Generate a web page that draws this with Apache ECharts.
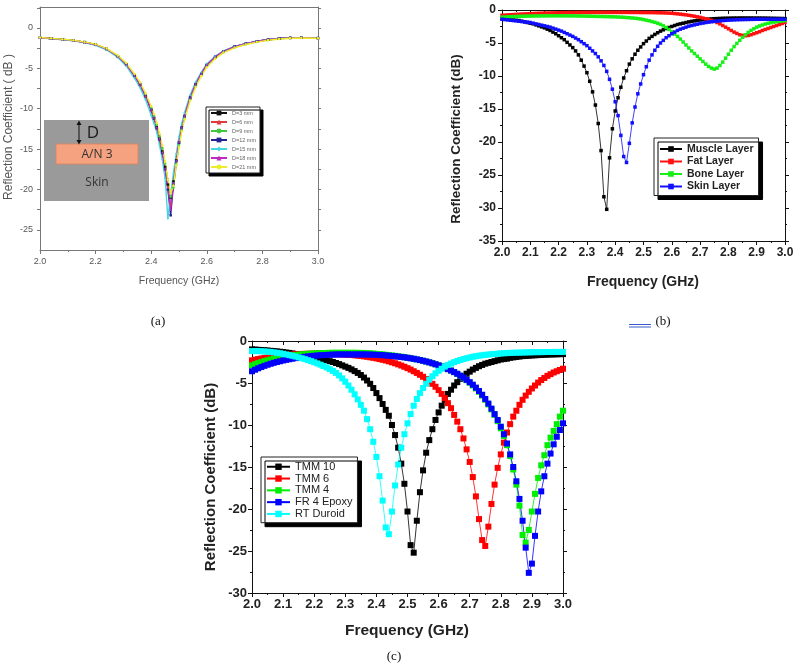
<!DOCTYPE html>
<html>
<head>
<meta charset="utf-8">
<title>Reflection coefficient</title>
<script src="https://cdn.jsdelivr.net/npm/echarts@6.0.0/dist/echarts.min.js"></script>
<style>
  html, body { margin: 0; padding: 0; background: #fff; }
  #chart { width: 800px; height: 669px; }
</style>
</head>
<body>
<div id="chart"></div>
<script>
// ---- (a) antenna depth in skin ----
const freqA = [2.00, 2.04, 2.08, 2.12, 2.16, 2.20, 2.24, 2.28, 2.31, 2.34, 2.36, 2.38, 2.40, 2.41, 2.42, 2.43,
  2.44, 2.45, 2.46, 2.47, 2.48, 2.49, 2.50, 2.51, 2.52, 2.54, 2.56, 2.58, 2.60, 2.63, 2.66, 2.70, 2.74, 2.78,
  2.82, 2.86, 2.90, 2.94, 3.00];
const namesA = ['D=3 mm', 'D=6 mm', 'D=9 mm', 'D=12 mm', 'D=15 mm', 'D=18 mm', 'D=21 mm'];
const d3 = [-1.2, -1.3, -1.4, -1.55, -1.75, -2.05, -2.6, -3.5, -4.5, -5.9, -7.0, -8.4, -10.1, -11.1, -12.3, -13.7, -15.3, -17.2, -19.4, -21.0, -19.0, -16.4, -14.2, -12.4, -11.0, -8.7, -7.0, -5.7, -4.6, -3.6, -2.9, -2.3, -1.95, -1.65, -1.45, -1.3, -1.22, -1.2, -1.25];
const d6 = [-1.2, -1.3, -1.42, -1.56, -1.76, -2.07, -2.62, -3.52, -4.55, -5.95, -7.05, -8.45, -10.2, -11.2, -12.4, -13.8, -15.4, -17.4, -19.6, -21.8, -19.3, -16.5, -14.2, -12.4, -11.0, -8.7, -7.0, -5.7, -4.6, -3.6, -2.9, -2.32, -1.96, -1.66, -1.46, -1.31, -1.23, -1.21, -1.26];
const d9 = [-1.22, -1.32, -1.43, -1.57, -1.78, -2.1, -2.65, -3.5, -4.5, -5.85, -6.95, -8.3, -9.9, -10.9, -12.0, -13.4, -14.9, -16.8, -18.8, -20.9, -19.8, -16.9, -14.5, -12.6, -11.1, -8.8, -7.1, -5.8, -4.7, -3.7, -3.0, -2.4, -2.02, -1.72, -1.5, -1.34, -1.25, -1.22, -1.26];
const d12 = [-1.2, -1.3, -1.41, -1.55, -1.75, -2.06, -2.6, -3.5, -4.5, -5.9, -7.0, -8.45, -10.15, -11.2, -12.4, -13.8, -15.5, -17.5, -20.0, -23.2, -19.4, -16.5, -14.2, -12.3, -10.9, -8.6, -6.95, -5.65, -4.55, -3.55, -2.9, -2.3, -1.95, -1.65, -1.45, -1.3, -1.22, -1.2, -1.25];
const d15 = [-1.22, -1.33, -1.45, -1.6, -1.82, -2.15, -2.72, -3.65, -4.7, -6.2, -7.4, -8.9, -10.8, -11.8, -12.9, -14.5, -16.3, -18.6, -23.6, -20.5, -18.0, -15.6, -13.5, -11.8, -10.5, -8.3, -6.7, -5.5, -4.45, -3.5, -2.85, -2.28, -1.94, -1.66, -1.46, -1.3, -1.22, -1.2, -1.25];
const d18 = [-1.2, -1.3, -1.41, -1.55, -1.76, -2.06, -2.61, -3.5, -4.5, -5.9, -7.0, -8.4, -10.1, -11.1, -12.3, -13.7, -15.4, -17.4, -19.8, -22.5, -19.2, -16.4, -14.1, -12.3, -10.9, -8.6, -6.95, -5.65, -4.55, -3.58, -2.9, -2.3, -1.95, -1.65, -1.45, -1.3, -1.22, -1.2, -1.25];
const d21 = [-1.18, -1.28, -1.38, -1.52, -1.72, -2.0, -2.55, -3.4, -4.35, -5.7, -6.75, -8.1, -9.7, -10.7, -11.8, -13.1, -14.6, -16.6, -18.8, -20.5, -19.5, -17.0, -14.7, -12.8, -11.3, -9.0, -7.3, -5.95, -4.85, -3.8, -3.05, -2.45, -2.05, -1.75, -1.52, -1.36, -1.27, -1.24, -1.27];
const yTicksA = [0, -5, -10, -15, -20, -25];

// ---- (b) and (c) share the 0.01 GHz sweep ----
const freqs = [
  2.00, 2.01, 2.02, 2.03, 2.04, 2.05, 2.06, 2.07, 2.08, 2.09,
  2.10, 2.11, 2.12, 2.13, 2.14, 2.15, 2.16, 2.17, 2.18, 2.19,
  2.20, 2.21, 2.22, 2.23, 2.24, 2.25, 2.26, 2.27, 2.28, 2.29,
  2.30, 2.31, 2.32, 2.33, 2.34, 2.35, 2.36, 2.37, 2.38, 2.39,
  2.40, 2.41, 2.42, 2.43, 2.44, 2.45, 2.46, 2.47, 2.48, 2.49,
  2.50, 2.51, 2.52, 2.53, 2.54, 2.55, 2.56, 2.57, 2.58, 2.59,
  2.60, 2.61, 2.62, 2.63, 2.64, 2.65, 2.66, 2.67, 2.68, 2.69,
  2.70, 2.71, 2.72, 2.73, 2.74, 2.75, 2.76, 2.77, 2.78, 2.79,
  2.80, 2.81, 2.82, 2.83, 2.84, 2.85, 2.86, 2.87, 2.88, 2.89,
  2.90, 2.91, 2.92, 2.93, 2.94, 2.95, 2.96, 2.97, 2.98, 2.99,
  3.00];

// (b) tissue layers
const muscle = [
  -1.3, -1.35, -1.4, -1.45, -1.5, -1.55, -1.6, -1.7, -1.8, -1.9,
  -2.0, -2.1, -2.25, -2.4, -2.55, -2.7, -2.9, -3.1, -3.35, -3.6,
  -3.9, -4.2, -4.5, -4.9, -5.3, -5.7, -6.2, -6.8, -7.6, -8.5,
  -9.5, -10.8, -12.4, -14.4, -17.2, -21.3, -28.3, -30.2, -22.4, -18.0,
  -15.3, -13.3, -11.7, -10.3, -9.2, -8.2, -7.4, -6.7, -6.1, -5.6,
  -5.1, -4.7, -4.3, -4.0, -3.7, -3.45, -3.2, -3.0, -2.8, -2.65,
  -2.5, -2.35, -2.2, -2.1, -2.0, -1.9, -1.8, -1.72, -1.65, -1.58,
  -1.52, -1.47, -1.42, -1.38, -1.35, -1.32, -1.3, -1.28, -1.26, -1.25,
  -1.24, -1.23, -1.22, -1.22, -1.21, -1.21, -1.21, -1.21, -1.21, -1.22,
  -1.22, -1.22, -1.23, -1.23, -1.24, -1.25, -1.26, -1.27, -1.28, -1.29,
  -1.3];
const fat = [
  -0.8, -0.78, -0.75, -0.72, -0.7, -0.67, -0.64, -0.62, -0.6, -0.58,
  -0.56, -0.54, -0.52, -0.5, -0.49, -0.47, -0.46, -0.45, -0.44, -0.43,
  -0.42, -0.41, -0.4, -0.4, -0.39, -0.39, -0.38, -0.38, -0.38, -0.37,
  -0.37, -0.37, -0.36, -0.36, -0.36, -0.36, -0.36, -0.36, -0.36, -0.36,
  -0.36, -0.36, -0.36, -0.36, -0.36, -0.37, -0.37, -0.37, -0.37, -0.38,
  -0.38, -0.38, -0.39, -0.39, -0.4, -0.41, -0.42, -0.43, -0.45, -0.47,
  -0.5, -0.54, -0.58, -0.63, -0.68, -0.74, -0.8, -0.87, -0.95, -1.03,
  -1.12, -1.22, -1.33, -1.45, -1.58, -1.72, -1.9, -2.1, -2.35, -2.6,
  -2.85, -3.1, -3.35, -3.55, -3.75, -3.85, -3.9, -3.85, -3.75, -3.6,
  -3.45, -3.3, -3.1, -2.95, -2.8, -2.65, -2.5, -2.35, -2.2, -2.05,
  -1.9];
const bone = [
  -1.1, -1.07, -1.04, -1.02, -1.0, -0.98, -0.96, -0.95, -0.94, -0.93,
  -0.92, -0.91, -0.9, -0.9, -0.89, -0.89, -0.89, -0.88, -0.88, -0.88,
  -0.88, -0.88, -0.88, -0.89, -0.89, -0.89, -0.9, -0.9, -0.91, -0.92,
  -0.93, -0.94, -0.95, -0.96, -0.97, -0.98, -0.99, -1.0, -1.01, -1.02,
  -1.04, -1.06, -1.08, -1.11, -1.14, -1.17, -1.21, -1.25, -1.3, -1.36,
  -1.45, -1.54, -1.64, -1.75, -1.87, -2.0, -2.18, -2.4, -2.65, -2.95,
  -3.3, -3.65, -4.0, -4.4, -4.85, -5.3, -5.75, -6.2, -6.6, -7.0,
  -7.4, -7.8, -8.2, -8.55, -8.8, -8.95, -8.8, -8.4, -7.9, -7.3,
  -6.7, -6.1, -5.55, -5.05, -4.6, -4.15, -3.75, -3.4, -3.1, -2.85,
  -2.6, -2.42, -2.27, -2.13, -2.02, -1.92, -1.84, -1.77, -1.71, -1.66,
  -1.6];
const skin = [
  -1.4, -1.45, -1.5, -1.55, -1.6, -1.65, -1.7, -1.75, -1.8, -1.85,
  -1.9, -2.0, -2.1, -2.2, -2.3, -2.4, -2.5, -2.6, -2.75, -2.9,
  -3.05, -3.2, -3.4, -3.6, -3.8, -4.0, -4.25, -4.5, -4.8, -5.1,
  -5.4, -5.8, -6.2, -6.6, -7.1, -7.7, -8.4, -9.3, -10.5, -12.0,
  -13.9, -16.0, -19.0, -22.2, -23.1, -20.2, -17.1, -14.7, -12.7, -11.2,
  -9.8, -8.6, -7.6, -6.8, -6.1, -5.5, -5.0, -4.6, -4.2, -3.9,
  -3.6, -3.35, -3.1, -2.9, -2.75, -2.6, -2.45, -2.35, -2.25, -2.15,
  -2.05, -1.98, -1.9, -1.84, -1.78, -1.73, -1.68, -1.64, -1.6, -1.57,
  -1.54, -1.52, -1.5, -1.48, -1.46, -1.45, -1.44, -1.43, -1.42, -1.41,
  -1.4, -1.4, -1.4, -1.4, -1.4, -1.4, -1.4, -1.4, -1.4, -1.4,
  -1.4];

// (c) substrates
const tmm10 = [
  -1.0, -1.02, -1.05, -1.08, -1.1, -1.13, -1.17, -1.2, -1.24, -1.28,
  -1.32, -1.37, -1.42, -1.48, -1.54, -1.6, -1.67, -1.74, -1.81, -1.88,
  -1.96, -2.04, -2.12, -2.2, -2.3, -2.4, -2.5, -2.62, -2.75, -2.9,
  -3.05, -3.2, -3.38, -3.58, -3.8, -4.05, -4.35, -4.7, -5.1, -5.6,
  -6.2, -6.8, -7.5, -8.2, -8.9, -10.0, -11.2, -12.7, -14.6, -17.0,
  -20.3, -24.3, -25.2, -21.4, -18.0, -15.4, -13.3, -11.8, -10.5, -9.4,
  -8.5, -7.7, -7.0, -6.3, -5.8, -5.3, -4.9, -4.5, -4.2, -3.9,
  -3.65, -3.4, -3.2, -3.0, -2.85, -2.7, -2.6, -2.5, -2.4, -2.3,
  -2.2, -2.15, -2.1, -2.0, -1.95, -1.9, -1.85, -1.8, -1.78, -1.75,
  -1.72, -1.7, -1.68, -1.66, -1.64, -1.62, -1.6, -1.6, -1.58, -1.57,
  -1.56];
const tmm6 = [
  -2.3, -2.22, -2.15, -2.08, -2.02, -1.96, -1.9, -1.85, -1.8, -1.75,
  -1.7, -1.67, -1.64, -1.61, -1.58, -1.56, -1.54, -1.53, -1.52, -1.51,
  -1.5, -1.5, -1.5, -1.5, -1.51, -1.52, -1.53, -1.55, -1.57, -1.59,
  -1.61, -1.64, -1.67, -1.7, -1.74, -1.78, -1.83, -1.88, -1.94, -2.0,
  -2.07, -2.15, -2.23, -2.32, -2.42, -2.53, -2.65, -2.78, -2.92, -3.07,
  -3.23, -3.4, -3.6, -3.8, -4.02, -4.26, -4.52, -4.8, -5.1, -5.45,
  -5.85, -6.3, -6.8, -7.4, -8.0, -8.8, -9.6, -10.5, -11.6, -12.9,
  -14.4, -16.2, -18.5, -21.2, -23.7, -24.4, -22.1, -19.4, -17.1, -15.1,
  -13.5, -12.1, -10.9, -9.9, -9.0, -8.3, -7.6, -7.0, -6.5, -6.05,
  -5.65, -5.3, -4.95, -4.65, -4.4, -4.15, -3.95, -3.75, -3.6, -3.45,
  -3.3];
const tmm4 = [
  -2.9, -2.76, -2.63, -2.51, -2.4, -2.3, -2.2, -2.11, -2.03, -1.96,
  -1.89, -1.83, -1.77, -1.72, -1.67, -1.63, -1.59, -1.56, -1.53, -1.5,
  -1.48, -1.46, -1.44, -1.43, -1.42, -1.41, -1.4, -1.4, -1.4, -1.4,
  -1.4, -1.4, -1.4, -1.4, -1.41, -1.42, -1.43, -1.45, -1.47, -1.5,
  -1.53, -1.56, -1.6, -1.64, -1.68, -1.72, -1.77, -1.82, -1.87, -1.93,
  -1.99, -2.05, -2.12, -2.19, -2.27, -2.35, -2.44, -2.54, -2.65, -2.77,
  -2.9, -3.04, -3.19, -3.35, -3.52, -3.71, -3.92, -4.15, -4.4, -4.67,
  -4.97, -5.29, -5.65, -6.05, -6.5, -7.0, -7.55, -8.15, -8.8, -9.55,
  -10.4, -11.3, -12.4, -13.7, -15.3, -17.1, -19.6, -23.1, -24.0, -22.5,
  -20.3, -18.2, -16.3, -14.8, -13.6, -12.4, -11.5, -10.7, -9.9, -9.0,
  -8.3];
const fr4 = [
  -3.6, -3.42, -3.25, -3.1, -2.96, -2.83, -2.71, -2.6, -2.5, -2.41,
  -2.32, -2.24, -2.17, -2.1, -2.04, -1.98, -1.93, -1.88, -1.84, -1.8,
  -1.76, -1.73, -1.7, -1.68, -1.66, -1.64, -1.62, -1.61, -1.6, -1.6,
  -1.6, -1.6, -1.6, -1.6, -1.6, -1.6, -1.6, -1.61, -1.62, -1.63,
  -1.65, -1.67, -1.69, -1.72, -1.75, -1.78, -1.82, -1.86, -1.9, -1.95,
  -2.0, -2.06, -2.12, -2.19, -2.27, -2.35, -2.44, -2.54, -2.65, -2.77,
  -2.9, -3.04, -3.19, -3.35, -3.52, -3.7, -3.9, -4.12, -4.36, -4.62,
  -4.9, -5.2, -5.55, -5.95, -6.4, -6.9, -7.45, -8.05, -8.7, -9.4,
  -10.2, -11.1, -12.2, -13.5, -15.0, -16.7, -18.8, -21.4, -24.6, -27.6,
  -26.5, -23.2, -20.3, -17.9, -16.1, -14.6, -13.4, -12.3, -11.4, -10.6,
  -9.8];
const rtDuroid = [
  -1.2, -1.2, -1.2, -1.22, -1.24, -1.27, -1.3, -1.35, -1.4, -1.46,
  -1.52, -1.6, -1.68, -1.76, -1.85, -1.95, -2.05, -2.16, -2.28, -2.4,
  -2.53, -2.67, -2.82, -2.98, -3.15, -3.35, -3.56, -3.8, -4.1, -4.45,
  -4.85, -5.3, -5.8, -6.35, -6.95, -7.6, -8.3, -9.3, -10.5, -12.0,
  -13.8, -16.1, -19.0, -22.2, -23.0, -20.3, -17.2, -14.7, -12.7, -11.1,
  -9.8, -8.7, -7.7, -6.9, -6.2, -5.6, -5.1, -4.6, -4.2, -3.85,
  -3.55, -3.3, -3.05, -2.85, -2.68, -2.52, -2.38, -2.26, -2.15, -2.05,
  -1.96, -1.88, -1.81, -1.75, -1.7, -1.65, -1.61, -1.57, -1.54, -1.51,
  -1.48, -1.46, -1.44, -1.42, -1.4, -1.39, -1.38, -1.37, -1.36, -1.35,
  -1.34, -1.33, -1.33, -1.32, -1.32, -1.31, -1.31, -1.3, -1.3, -1.3,
  -1.3];

const SANS = '"Liberation Sans", Arial, sans-serif';
const SERIF = '"Liberation Serif", "Times New Roman", serif';

function pairs(xs, ys) {
  return xs.map((x, i) => [x, ys[i]]);
}

function line(name, xs, ys, color, symbol, size, axis, width) {
  return {
    name: name,
    type: 'line',
    xAxisIndex: axis,
    yAxisIndex: axis,
    data: pairs(xs, ys),
    symbol: symbol,
    symbolSize: size,
    lineStyle: { color: color, width: width },
    itemStyle: { color: color },
    silent: true,
    animation: false
  };
}

// bottom + top axis for one panel
function xPair(grid, interval, color, label) {
  const base = {
    type: 'value', gridIndex: grid, min: 2, max: 3, interval: interval,
    splitLine: { show: false },
    axisLine: { onZero: false, lineStyle: { color: color, width: 1 } },
    minorTick: { show: true, splitNumber: 2, length: 2, lineStyle: { color: color } }
  };
  return [
    Object.assign({}, base, {
      position: 'bottom',
      axisTick: { length: 4, lineStyle: { color: color } },
      axisLabel: Object.assign({ formatter: v => v.toFixed(1), fontFamily: SANS }, label)
    }),
    Object.assign({}, base, {
      position: 'top',
      axisTick: { inside: true, length: 4, lineStyle: { color: color } },
      minorTick: { show: true, splitNumber: 2, length: 2, lineStyle: { color: color } },
      axisLabel: { show: false }
    })
  ];
}

function yPair(grid, min, max, color, label) {
  const base = {
    type: 'value', gridIndex: grid, min: min, max: max, interval: 5,
    splitLine: { show: false },
    axisLine: { show: true, onZero: false, lineStyle: { color: color, width: 1 } },
    axisTick: { show: true, length: 4, lineStyle: { color: color } },
    minorTick: { show: true, splitNumber: 2, length: 2, lineStyle: { color: color } }
  };
  return [
    Object.assign({}, base, {
      position: 'left',
      axisLabel: Object.assign({ formatter: v => String(Math.round(v)), fontFamily: SANS }, label)
    }),
    Object.assign({}, base, { position: 'right', axisLabel: { show: false } })
  ];
}

const labB = { fontSize: 12, fontWeight: 'bold', color: '#222', margin: 6 };
const labC = { fontSize: 13, fontWeight: 'bold', color: '#222', margin: 5 };

const xAxesA = xPair(0, 0.2, '#777', { fontSize: 9, color: '#555', margin: 7 });
xAxesA[1].axisTick = { show: false };
xAxesA[1].minorTick = { show: false };

const tickA = [2.5, 0, -2.5, -5, -7.5, -10, -12.5, -15, -17.5, -20, -22.5, -25];
const yAxesA = [0, 1].map(k => ({
  type: 'value', gridIndex: 0, min: -27.5, max: 2.6,
  position: k === 0 ? 'left' : 'right',
  splitLine: { show: false },
  axisLine: { show: true, onZero: false, lineStyle: { color: '#777', width: 1 } },
  axisTick: { show: true, length: 3, customValues: tickA, lineStyle: { color: '#777' } },
  axisLabel: k === 0
    ? { customValues: yTicksA, formatter: v => String(Math.round(v)), fontSize: 9, color: '#555', margin: 7, fontFamily: SANS }
    : { show: false }
}));

const boxShadow = {
  backgroundColor: '#fff', borderColor: '#222', borderWidth: 1,
  shadowColor: '#000', shadowBlur: 0, shadowOffsetX: 4, shadowOffsetY: 4
};

const chart = echarts.init(document.getElementById('chart'), null, { renderer: 'canvas' });

chart.setOption({
  animation: false,
  backgroundColor: '#fff',
  grid: [
    { left: 40, top: 7, width: 278, height: 243 },
    { left: 502, top: 10, width: 283, height: 231 },
    { left: 252, top: 341, width: 311, height: 252 }
  ],
  xAxis: [].concat(xAxesA, xPair(1, 0.1, '#111', labB), xPair(2, 0.1, '#111', labC)),
  yAxis: [].concat(yAxesA, yPair(1, -35, 0, '#111', labB), yPair(2, -30, 0, '#111', labC)),
  legend: [
    Object.assign({}, boxShadow, {
      data: namesA, orient: 'vertical', left: 206, top: 107, padding: [3, 4],
      itemWidth: 16, itemHeight: 6, itemGap: 3.0, selectedMode: false,
      shadowOffsetX: 3, shadowOffsetY: 3,
      textStyle: { fontSize: 5.5, color: '#666', fontFamily: SANS, lineHeight: 6 }
    }),
    Object.assign({}, boxShadow, {
      data: ['Muscle Layer', 'Fat Layer', 'Bone Layer', 'Skin Layer'],
      orient: 'vertical', left: 654, top: 138, padding: [5, 5, 3, 5],
      itemWidth: 22, itemHeight: 7, itemGap: 0.5, selectedMode: false,
      textStyle: { fontSize: 10.5, fontWeight: 'bold', color: '#222', fontFamily: SANS, lineHeight: 12 }
    }),
    Object.assign({}, boxShadow, {
      data: ['TMM 10', 'TMM 6', 'TMM 4', 'FR 4 Epoxy', 'RT Duroid'],
      orient: 'vertical', left: 261, top: 457, padding: [4, 5, 3, 5],
      itemWidth: 23, itemHeight: 8, itemGap: 0.3, selectedMode: false,
      textStyle: { fontSize: 11, color: '#222', fontFamily: SANS, lineHeight: 11.5 }
    })
  ],
  series: [
    line(namesA[0], freqA, d3, '#111111', 'rect', 2.5, 0, 1.4),
    line(namesA[1], freqA, d6, '#e23a3a', 'triangle', 2.5, 0, 1.4),
    line(namesA[2], freqA, d9, '#3fc83f', 'circle', 2.5, 0, 1.4),
    line(namesA[3], freqA, d12, '#232394', 'rect', 2.5, 0, 1.4),
    line(namesA[4], freqA, d15, '#45d6de', 'diamond', 2.5, 0, 1.4),
    line(namesA[5], freqA, d18, '#c02ac0', 'triangle', 2.5, 0, 1.4),
    line(namesA[6], freqA, d21, '#eded2a', 'circle', 2.5, 0, 1.4),

    line('Muscle Layer', freqs, muscle, '#000000', 'rect', 3.5, 2, 0.8),
    line('Fat Layer', freqs, fat, '#ff1010', 'rect', 3.5, 2, 0.8),
    line('Bone Layer', freqs, bone, '#16f016', 'rect', 3.5, 2, 0.8),
    line('Skin Layer', freqs, skin, '#1010ff', 'rect', 3.5, 2, 0.8),

    line('TMM 10', freqs, tmm10, '#000000', 'rect', 6, 4, 0.8),
    line('TMM 6', freqs, tmm6, '#ff0000', 'rect', 6, 4, 0.8),
    line('TMM 4', freqs, tmm4, '#00ee00', 'rect', 6, 4, 0.8),
    line('FR 4 Epoxy', freqs, fr4, '#0000ff', 'rect', 6, 4, 0.8),
    line('RT Duroid', freqs, rtDuroid, '#00ffff', 'rect', 6, 4, 0.8)
  ],
  graphic: { elements: [
    // inset drawing of panel (a)
    { type: 'rect', shape: { x: 44, y: 120, width: 105, height: 81 }, style: { fill: '#9a9a9a' }, z: 5 },
    { type: 'rect', shape: { x: 56, y: 144, width: 82, height: 20 }, style: { fill: '#f4a27f', stroke: '#e0845a', lineWidth: 0.8 }, z: 6 },
    { type: 'line', shape: { x1: 79, y1: 123, x2: 79, y2: 142 }, style: { stroke: '#111', lineWidth: 1 }, z: 6 },
    { type: 'polygon', shape: { points: [[76.5, 125], [79, 120.5], [81.5, 125]] }, style: { fill: '#111' }, z: 6 },
    { type: 'polygon', shape: { points: [[76.5, 140], [79, 144.5], [81.5, 140]] }, style: { fill: '#111' }, z: 6 },
    { type: 'text', x: 93, y: 133, z: 6, style: { text: 'D', font: '17px "Open Sans", sans-serif', fill: '#1a1a1a', align: 'center', verticalAlign: 'middle' } },
    { type: 'text', x: 97, y: 154.5, z: 7, style: { text: 'A/N 3', font: '12px "Open Sans", sans-serif', fill: '#333', align: 'center', verticalAlign: 'middle' } },
    { type: 'text', x: 97, y: 183, z: 6, style: { text: 'Skin', font: '12px "Open Sans", sans-serif', fill: '#333', align: 'center', verticalAlign: 'middle' } },

    // axis titles
    { type: 'text', x: 9, y: 127, rotation: Math.PI / 2, style: { text: 'Reflection Coefficient ( dB )', font: '12px ' + SANS, fill: '#555', align: 'center', verticalAlign: 'middle' } },
    { type: 'text', x: 179, y: 281, style: { text: 'Frequency (GHz)', font: '10.5px ' + SANS, fill: '#555', align: 'center', verticalAlign: 'middle' } },
    { type: 'text', x: 456, y: 139, rotation: Math.PI / 2, style: { text: 'Reflection Coefficient (dB)', font: 'bold 13.5px ' + SANS, fill: '#222', align: 'center', verticalAlign: 'middle' } },
    { type: 'text', x: 643, y: 282, style: { text: 'Frequency (GHz)', font: 'bold 14px ' + SANS, fill: '#222', align: 'center', verticalAlign: 'middle' } },
    { type: 'text', x: 211, y: 477, rotation: Math.PI / 2, style: { text: 'Reflection Coefficient (dB)', font: 'bold 15px ' + SANS, fill: '#222', align: 'center', verticalAlign: 'middle' } },
    { type: 'text', x: 407, y: 631, style: { text: 'Frequency (GHz)', font: 'bold 15.5px ' + SANS, fill: '#222', align: 'center', verticalAlign: 'middle' } },

    // panel captions
    { type: 'text', x: 158, y: 322, style: { text: '(a)', font: '13px ' + SERIF, fill: '#111', align: 'center', verticalAlign: 'middle' } },
    { type: 'text', x: 663, y: 322, style: { text: '(b)', font: '13px ' + SERIF, fill: '#111', align: 'center', verticalAlign: 'middle' } },
    { type: 'line', shape: { x1: 629, y1: 324.5, x2: 651, y2: 324.5 }, style: { stroke: '#3a5fcd', lineWidth: 1 } },
    { type: 'line', shape: { x1: 629, y1: 327, x2: 651, y2: 327 }, style: { stroke: '#3a5fcd', lineWidth: 1 } },
    { type: 'text', x: 394, y: 657, style: { text: '(c)', font: '13px ' + SERIF, fill: '#111', align: 'center', verticalAlign: 'middle' } }
  ] }
});
</script>
</body>
</html>
